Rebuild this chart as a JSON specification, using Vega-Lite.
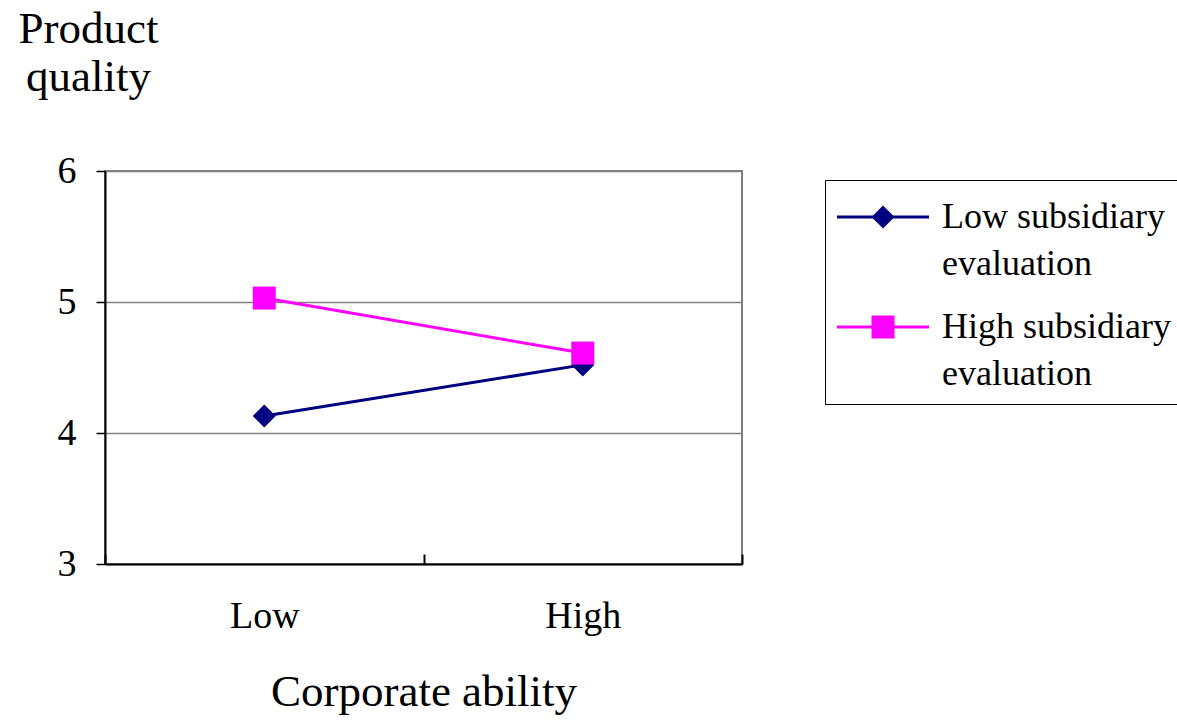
{
  "$schema": "https://vega.github.io/schema/vega-lite/v6.json",
  "width": 637,
  "height": 393,
  "autosize": "none",
  "padding": {"left": 105, "top": 171, "right": 435, "bottom": 159},
  "background": "white",
  "config": {
    "font": "Liberation Serif",
    "view": {"stroke": "#808080", "strokeWidth": 2},
    "axis": {"labelFont": "Liberation Serif", "titleFont": "Liberation Serif"},
    "legend": {"labelFont": "Liberation Serif", "titleFont": "Liberation Serif"}
  },
  "data": {
    "values": [
      {"series": "Low subsidiary evaluation", "group": "Low subsidiary", "ability": "Low", "quality": 4.13},
      {"series": "Low subsidiary evaluation", "group": "Low subsidiary", "ability": "High", "quality": 4.52},
      {"series": "High subsidiary evaluation", "group": "High subsidiary", "ability": "Low", "quality": 5.03},
      {"series": "High subsidiary evaluation", "group": "High subsidiary", "ability": "High", "quality": 4.61}
    ]
  },
  "encoding": {
    "x": {
      "field": "ability", "type": "nominal", "sort": ["Low", "High"],
      "scale": {"paddingInner": 0, "paddingOuter": 0},
      "axis": {
        "labelAngle": 0, "labelFontSize": 38, "labelColor": "black", "labelPadding": 43,
        "tickBand": "extent", "tickSize": -10, "tickColor": "black", "tickWidth": 2,
        "domainColor": "black", "domainWidth": 2,
        "title": "Corporate ability", "titleFontSize": 45, "titleFontWeight": "normal", "titleColor": "black", "titlePadding": 34
      }
    },
    "y": {
      "field": "quality", "type": "quantitative",
      "scale": {"domain": [3, 6]},
      "axis": {
        "values": [3, 4, 5, 6], "labelFontSize": 38, "labelColor": "black", "labelPadding": 20,
        "tickSize": 9, "tickColor": "black", "tickWidth": 1.5,
        "domainColor": "black", "domainWidth": 2,
        "grid": true, "gridColor": "#808080", "gridWidth": 1.5,
        "title": ["Product", "quality"], "titleAngle": 0, "titleAlign": "center", "titleBaseline": "top",
        "titleX": -17, "titleY": -165, "titleFontSize": 45, "titleFontWeight": "normal", "titleColor": "black", "titleLineHeight": 48
      }
    }
  },
  "layer": [
    {
      "mark": {"type": "line", "strokeWidth": 3},
      "encoding": {
        "color": {
          "field": "series", "type": "nominal",
          "scale": {"domain": ["Low subsidiary evaluation", "High subsidiary evaluation"], "range": ["#000080", "#FF00FF"]},
          "legend": {
            "orient": "none", "legendX": 720, "legendY": 9,
            "title": " ", "titleFontSize": 1, "titlePadding": 6,
            "symbolType": "M-4,0H4", "symbolSize": 529, "symbolStrokeWidth": 3, "symbolOffset": 28,
            "labelFontSize": 36, "labelColor": "black", "labelLimit": 0,
            "labelOffset": 41, "labelBaseline": "alphabetic",
            "labelExpr": "datum.label == 'Low subsidiary evaluation' ? ['Low subsidiary', 'evaluation'] : ['High subsidiary', 'evaluation']",
            "strokeColor": "black", "padding": 12, "rowPadding": 27,
            "encode": {"labels": {"update": {"lineHeight": {"value": 47}, "dy": {"value": 11}}}}
          }
        }
      }
    },
    {
      "mark": {"type": "point", "filled": true, "opacity": 1, "size": 529, "strokeWidth": 0},
      "encoding": {
        "shape": {
          "field": "group", "type": "nominal",
          "scale": {"domain": ["Low subsidiary", "High subsidiary"], "range": ["diamond", "square"]},
          "legend": {
            "orient": "none", "legendX": 720, "legendY": 9,
            "title": " ", "titleFontSize": 1, "titlePadding": 6,
            "symbolSize": 529, "symbolOffset": 28, "symbolStrokeWidth": 0,
            "labelFontSize": 36, "labelLimit": 0,
            "labelOffset": 41, "labelBaseline": "alphabetic",
            "labelExpr": "''",
            "padding": 12, "rowPadding": 69
          }
        },
        "fill": {
          "field": "group", "type": "nominal",
          "scale": {"domain": ["Low subsidiary", "High subsidiary"], "range": ["#000080", "#FF00FF"]},
          "legend": {
            "orient": "none", "legendX": 720, "legendY": 9,
            "title": " ", "titleFontSize": 1, "titlePadding": 6,
            "symbolSize": 529, "symbolOffset": 28, "symbolStrokeWidth": 0,
            "labelFontSize": 36, "labelLimit": 0,
            "labelOffset": 41, "labelBaseline": "alphabetic",
            "labelExpr": "''",
            "padding": 12, "rowPadding": 69
          }
        }
      }
    }
  ]
}
